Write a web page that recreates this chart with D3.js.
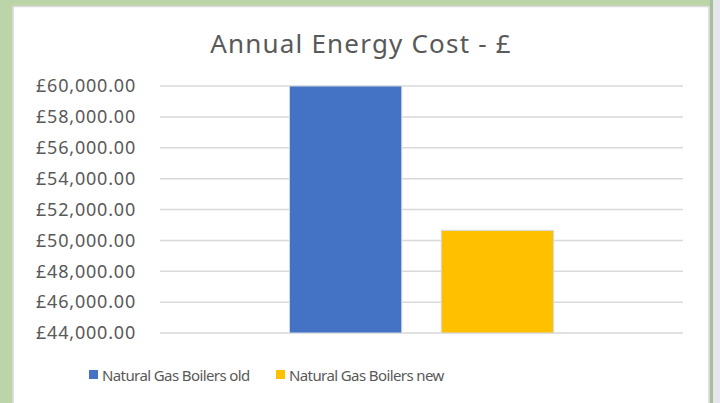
<!DOCTYPE html>
<html>
<head>
<meta charset="utf-8">
<script src="https://cdn.jsdelivr.net/npm/d3@7"></script>
<style>
  html, body { margin: 0; padding: 0; background: #bcd5a8; }
  svg { display: block; }
  text { font-family: "Noto Sans", sans-serif; fill: #595959; }
</style>
</head>
<body>
<svg id="chart"></svg>
<script>
// Chart data
const categories = ['Annual Energy Cost'];
const seriesNames = ['Natural Gas Boilers old', 'Natural Gas Boilers new'];
const seriesValues = [60000, 50650];
const seriesColors = ['#4472c4', '#ffc000'];
const yTicks = [44000, 46000, 48000, 50000, 52000, 54000, 56000, 58000, 60000];
const title = 'Annual Energy Cost - £';

const W = 720, H = 403;
const svg = d3.select('#chart').attr('width', W).attr('height', H);

// Window frame bits
svg.append('rect').attr('x', 0).attr('y', 0).attr('width', W).attr('height', H).attr('fill', '#bcd5a8');
svg.append('rect').attr('x', 713).attr('y', 0).attr('width', 7).attr('height', H).attr('fill', '#e3e6ea');
svg.append('rect').attr('x', 710).attr('y', 0).attr('width', 3).attr('height', H).attr('fill', '#a9bf9c');

// Chart area panel
svg.append('rect')
  .attr('x', 13).attr('y', 6.5)
  .attr('width', 696).attr('height', H)
  .attr('fill', '#fff')
  .attr('stroke', '#d9d9d9')
  .attr('stroke-width', 1.5);

// Title
svg.append('text')
  .attr('x', 361).attr('y', 53)
  .attr('text-anchor', 'middle')
  .style('font-size', '26px')
  .style('letter-spacing', '1.2px')
  .text(title);

// Plot area
const margin = { top: 86, left: 160 };
const width = 523;
const height = 247;

const g = svg.append('g').attr('transform', `translate(${margin.left},${margin.top})`);

const y = d3.scaleLinear().domain([44000, 60000]).range([height, 0]);

const x0 = d3.scaleBand().domain(categories).range([0, width]).paddingOuter(0.49).paddingInner(0);
const x1 = d3.scaleBand().domain(seriesNames).range([0, x0.bandwidth()]).paddingInner(0.26);

// Gridlines
g.selectAll('.grid')
  .data(yTicks)
  .enter().append('line')
  .attr('x1', 0).attr('x2', width)
  .attr('y1', d => y(d)).attr('y2', d => y(d))
  .attr('stroke', '#d9d9d9')
  .attr('stroke-width', 1.5);

// Y axis labels
const fmt = d => '£' + d3.format(',.2f')(d);
const yAxis = d3.axisLeft(y).tickValues(yTicks).tickFormat(fmt).tickSize(0).tickPadding(24);
const ya = g.append('g').call(yAxis);
ya.select('.domain').remove();
ya.selectAll('text')
  .style('font-size', '18px')
  .style('letter-spacing', '0.8px')
  .style('font-family', '"Noto Sans", sans-serif')
  .attr('fill', '#595959');

// Bars
categories.forEach(cat => {
  g.selectAll('.bar')
    .data(seriesNames.map((s, i) => ({ s, v: seriesValues[i], c: seriesColors[i] })))
    .enter().append('rect')
    .attr('class', 'bar')
    .attr('x', d => x0(cat) + x1(d.s))
    .attr('y', d => y(d.v))
    .attr('width', x1.bandwidth())
    .attr('height', d => height - y(d.v))
    .attr('fill', d => d.c)
    .attr('stroke', '#d6dbe3')
    .attr('stroke-width', 1);
});

// Legend
const legend = svg.append('g').attr('transform', 'translate(89,375)');
const legX = [0, 187];
seriesNames.forEach((s, i) => {
  const item = legend.append('g').attr('transform', `translate(${legX[i]},0)`);
  item.append('rect')
    .attr('x', 0).attr('y', -5)
    .attr('width', 9).attr('height', 9)
    .attr('fill', seriesColors[i]);
  item.append('text')
    .attr('x', 13).attr('y', 6)
    .style('font-size', '15px')
    .style('letter-spacing', '-0.6px')
    .text(s);
});
</script>
</body>
</html>
